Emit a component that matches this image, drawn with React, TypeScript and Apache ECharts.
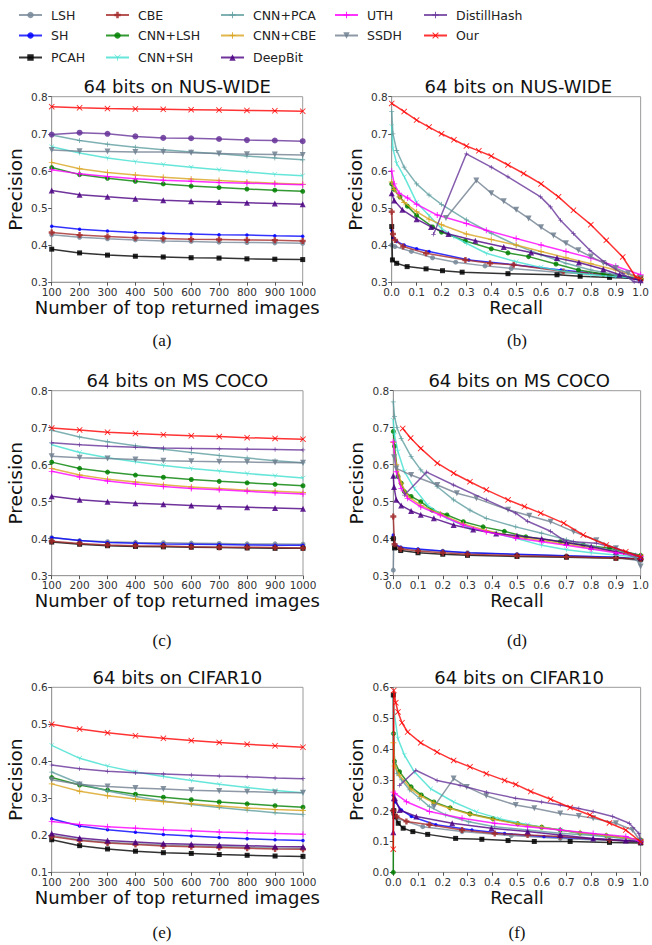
import React, { useEffect, useRef } from 'react';
import * as echarts from 'echarts';

const FONT = '"DejaVu Sans", "Noto Sans", sans-serif';

// ---------------- series identity ----------------
const SERIES_NAMES = ['LSH', 'SH', 'PCAH', 'CBE', 'CNN+LSH', 'CNN+SH', 'CNN+PCA', 'CNN+CBE', 'DeepBit', 'UTH', 'SSDH', 'DistillHash', 'Our'];

// ---------------- data: top-k precision ----------------
const TOPK_X = [100, 200, 300, 400, 500, 600, 700, 800, 900, 1000];

const nusTopK: Record<string, number[]> = {
  LSH: [0.428, 0.421, 0.417, 0.414, 0.411, 0.41, 0.408, 0.407, 0.406, 0.405],
  SH: [0.451, 0.443, 0.438, 0.434, 0.432, 0.43, 0.428, 0.427, 0.425, 0.424],
  PCAH: [0.389, 0.379, 0.373, 0.37, 0.368, 0.366, 0.365, 0.363, 0.362, 0.361],
  CBE: [0.434, 0.427, 0.423, 0.42, 0.418, 0.416, 0.415, 0.414, 0.413, 0.411],
  'CNN+LSH': [0.609, 0.59, 0.58, 0.572, 0.565, 0.559, 0.555, 0.551, 0.548, 0.545],
  'CNN+SH': [0.665, 0.648, 0.635, 0.625, 0.617, 0.61, 0.603, 0.597, 0.591, 0.587],
  'CNN+PCA': [0.697, 0.682, 0.672, 0.664, 0.657, 0.651, 0.646, 0.64, 0.635, 0.63],
  'CNN+CBE': [0.623, 0.606, 0.596, 0.589, 0.583, 0.578, 0.574, 0.57, 0.567, 0.564],
  DeepBit: [0.547, 0.536, 0.53, 0.525, 0.521, 0.518, 0.516, 0.514, 0.512, 0.51],
  UTH: [0.603, 0.592, 0.585, 0.579, 0.575, 0.572, 0.569, 0.567, 0.565, 0.563],
  SSDH: [0.656, 0.653, 0.652, 0.651, 0.651, 0.649, 0.647, 0.645, 0.644, 0.643],
  DistillHash: [0.698, 0.703, 0.7, 0.693, 0.689, 0.688, 0.686, 0.683, 0.682, 0.68],
  Our: [0.773, 0.77, 0.768, 0.767, 0.766, 0.765, 0.764, 0.763, 0.762, 0.761],
};

const cocoTopK: Record<string, number[]> = {
  LSH: [0.403, 0.395, 0.392, 0.39, 0.389, 0.388, 0.387, 0.386, 0.386, 0.385],
  SH: [0.403, 0.395, 0.39, 0.388, 0.386, 0.385, 0.384, 0.383, 0.382, 0.382],
  PCAH: [0.391, 0.385, 0.381, 0.379, 0.378, 0.377, 0.376, 0.375, 0.374, 0.374],
  CBE: [0.393, 0.387, 0.383, 0.381, 0.38, 0.378, 0.377, 0.377, 0.376, 0.375],
  'CNN+LSH': [0.607, 0.59, 0.58, 0.572, 0.566, 0.56, 0.555, 0.551, 0.547, 0.543],
  'CNN+SH': [0.654, 0.633, 0.619, 0.608, 0.598, 0.59, 0.583, 0.576, 0.57, 0.564],
  'CNN+PCA': [0.693, 0.675, 0.662, 0.651, 0.642, 0.633, 0.625, 0.618, 0.611, 0.605],
  'CNN+CBE': [0.59, 0.572, 0.561, 0.553, 0.546, 0.54, 0.536, 0.531, 0.528, 0.525],
  DeepBit: [0.515, 0.505, 0.5, 0.496, 0.493, 0.49, 0.487, 0.485, 0.483, 0.481],
  UTH: [0.582, 0.567, 0.556, 0.548, 0.541, 0.536, 0.532, 0.528, 0.524, 0.521],
  SSDH: [0.623, 0.619, 0.617, 0.614, 0.611, 0.609, 0.608, 0.607, 0.606, 0.605],
  DistillHash: [0.659, 0.654, 0.65, 0.647, 0.645, 0.644, 0.643, 0.642, 0.641, 0.64],
  Our: [0.699, 0.694, 0.688, 0.684, 0.681, 0.678, 0.676, 0.673, 0.671, 0.669],
};

const cifarTopK: Record<string, number[]> = {
  LSH: [0.2, 0.188, 0.181, 0.177, 0.174, 0.172, 0.17, 0.168, 0.166, 0.165],
  SH: [0.245, 0.225, 0.215, 0.208, 0.202, 0.198, 0.194, 0.191, 0.188, 0.186],
  PCAH: [0.188, 0.172, 0.163, 0.157, 0.153, 0.151, 0.148, 0.146, 0.144, 0.143],
  CBE: [0.197, 0.186, 0.179, 0.175, 0.171, 0.169, 0.167, 0.165, 0.163, 0.162],
  'CNN+LSH': [0.356, 0.336, 0.322, 0.311, 0.303, 0.296, 0.29, 0.285, 0.28, 0.276],
  'CNN+SH': [0.443, 0.408, 0.387, 0.371, 0.359, 0.348, 0.338, 0.329, 0.321, 0.315],
  'CNN+PCA': [0.371, 0.34, 0.32, 0.305, 0.293, 0.283, 0.275, 0.268, 0.261, 0.256],
  'CNN+CBE': [0.339, 0.319, 0.307, 0.298, 0.291, 0.285, 0.279, 0.274, 0.27, 0.267],
  DeepBit: [0.205, 0.193, 0.186, 0.182, 0.178, 0.176, 0.174, 0.172, 0.17, 0.169],
  UTH: [0.237, 0.229, 0.223, 0.219, 0.215, 0.212, 0.209, 0.207, 0.205, 0.203],
  SSDH: [0.35, 0.337, 0.332, 0.328, 0.325, 0.322, 0.32, 0.318, 0.316, 0.315],
  DistillHash: [0.39, 0.38, 0.373, 0.369, 0.366, 0.363, 0.36, 0.358, 0.355, 0.353],
  Our: [0.5, 0.487, 0.477, 0.469, 0.462, 0.456, 0.451, 0.446, 0.442, 0.438],
};

// ---------------- data: precision-recall [recall, precision] ----------------
const nusPR: Record<string, number[][]> = {
  LSH: [[0, 0.4], [0.013, 0.396], [0.079, 0.383], [0.164, 0.366], [0.257, 0.354], [0.375, 0.344], [0.48, 0.337], [0.678, 0.326], [0.875, 0.319], [1.0, 0.305]],
  SH: [[0, 0.44], [0.005, 0.42], [0.02, 0.41], [0.05, 0.4], [0.1, 0.39], [0.15, 0.383], [0.31, 0.36], [0.49, 0.347], [0.68, 0.333], [0.875, 0.32], [1.0, 0.305]],
  PCAH: [[0, 0.45], [0.003, 0.36], [0.02, 0.351], [0.062, 0.342], [0.138, 0.336], [0.204, 0.331], [0.283, 0.327], [0.467, 0.323], [0.664, 0.32], [0.757, 0.316], [0.875, 0.313], [1.0, 0.31]],
  CBE: [[0, 0.49], [0.005, 0.43], [0.013, 0.414], [0.046, 0.396], [0.138, 0.378], [0.296, 0.36], [0.395, 0.351], [0.49, 0.347], [0.69, 0.329], [0.85, 0.322], [1.0, 0.308]],
  'CNN+LSH': [[0, 0.565], [0.01, 0.55], [0.033, 0.53], [0.063, 0.505], [0.1, 0.48], [0.164, 0.449], [0.2, 0.435], [0.296, 0.411], [0.4, 0.39], [0.467, 0.379], [0.55, 0.369], [0.66, 0.349], [0.75, 0.333], [0.85, 0.322], [1.0, 0.31]],
  'CNN+SH': [[0, 0.72], [0.005, 0.66], [0.02, 0.62], [0.051, 0.584], [0.1, 0.515], [0.15, 0.48], [0.2, 0.445], [0.25, 0.422], [0.3, 0.405], [0.38, 0.378], [0.5, 0.355], [0.6, 0.34], [0.7, 0.328], [0.8, 0.32], [0.9, 0.315], [1.0, 0.31]],
  'CNN+PCA': [[0, 0.76], [0.005, 0.7], [0.02, 0.655], [0.05, 0.61], [0.1, 0.565], [0.15, 0.535], [0.2, 0.51], [0.3, 0.468], [0.4, 0.432], [0.5, 0.4], [0.6, 0.374], [0.7, 0.351], [0.8, 0.333], [0.9, 0.32], [1.0, 0.31]],
  'CNN+CBE': [[0, 0.57], [0.01, 0.55], [0.03, 0.53], [0.05, 0.515], [0.1, 0.49], [0.15, 0.47], [0.2, 0.455], [0.3, 0.43], [0.4, 0.415], [0.5, 0.4], [0.6, 0.383], [0.7, 0.366], [0.8, 0.35], [0.9, 0.333], [1.0, 0.31]],
  DeepBit: [[0, 0.54], [0.01, 0.52], [0.043, 0.495], [0.1, 0.47], [0.158, 0.449], [0.228, 0.43], [0.336, 0.412], [0.45, 0.395], [0.56, 0.38], [0.664, 0.365], [0.752, 0.353], [0.85, 0.335], [0.915, 0.32], [1.0, 0.305]],
  UTH: [[0, 0.6], [0.01, 0.565], [0.03, 0.54], [0.064, 0.527], [0.1, 0.51], [0.183, 0.481], [0.3, 0.458], [0.38, 0.44], [0.5, 0.418], [0.6, 0.4], [0.7, 0.383], [0.8, 0.365], [0.9, 0.343], [1.0, 0.32]],
  SSDH: [[0.218, 0.473], [0.34, 0.574], [0.4, 0.54], [0.45, 0.518], [0.5, 0.495], [0.55, 0.472], [0.6, 0.448], [0.65, 0.426], [0.7, 0.405], [0.75, 0.386], [0.8, 0.369], [0.85, 0.352], [0.9, 0.338], [0.95, 0.324], [1.0, 0.311]],
  DistillHash: [[0.168, 0.429], [0.3, 0.646], [0.4, 0.61], [0.467, 0.584], [0.598, 0.53], [0.638, 0.503], [0.678, 0.467], [0.73, 0.431], [0.796, 0.386], [0.862, 0.35], [0.928, 0.323], [0.974, 0.301], [1.0, 0.3]],
  Our: [[0, 0.782], [0.05, 0.76], [0.1, 0.737], [0.15, 0.718], [0.2, 0.7], [0.25, 0.684], [0.3, 0.667], [0.35, 0.654], [0.4, 0.64], [0.467, 0.616], [0.53, 0.593], [0.6, 0.565], [0.67, 0.53], [0.73, 0.494], [0.8, 0.455], [0.862, 0.413], [0.928, 0.368], [0.98, 0.314], [1.0, 0.31]],
};

const cocoPR: Record<string, number[][]> = {
  LSH: [[0, 0.315], [0.002, 0.4], [0.01, 0.38], [0.03, 0.375], [0.1, 0.37], [0.2, 0.366], [0.3, 0.362], [0.5, 0.357], [0.7, 0.353], [0.9, 0.35], [1.0, 0.34]],
  SH: [[0, 0.41], [0.005, 0.385], [0.03, 0.377], [0.1, 0.372], [0.2, 0.367], [0.3, 0.362], [0.5, 0.358], [0.7, 0.354], [0.9, 0.35], [1.0, 0.345]],
  PCAH: [[0, 0.4], [0.005, 0.375], [0.03, 0.368], [0.1, 0.362], [0.2, 0.358], [0.3, 0.355], [0.5, 0.352], [0.7, 0.35], [0.9, 0.347], [1.0, 0.345]],
  CBE: [[0, 0.46], [0.005, 0.385], [0.03, 0.372], [0.1, 0.367], [0.2, 0.362], [0.3, 0.358], [0.5, 0.354], [0.7, 0.351], [0.9, 0.348], [1.0, 0.345]],
  'CNN+LSH': [[0, 0.69], [0.005, 0.65], [0.019, 0.568], [0.032, 0.55], [0.045, 0.527], [0.072, 0.514], [0.111, 0.5], [0.157, 0.477], [0.217, 0.464], [0.283, 0.446], [0.363, 0.432], [0.449, 0.42], [0.536, 0.405], [0.675, 0.392], [0.768, 0.383], [0.874, 0.374], [1.0, 0.355]],
  'CNN+SH': [[0, 0.72], [0.005, 0.68], [0.019, 0.635], [0.045, 0.581], [0.085, 0.536], [0.138, 0.491], [0.217, 0.455], [0.31, 0.428], [0.416, 0.414], [0.495, 0.401], [0.6, 0.382], [0.7, 0.37], [0.8, 0.362], [0.9, 0.356], [1.0, 0.35]],
  'CNN+PCA': [[0, 0.77], [0.005, 0.73], [0.015, 0.7], [0.032, 0.671], [0.072, 0.622], [0.111, 0.586], [0.177, 0.541], [0.244, 0.505], [0.31, 0.477], [0.376, 0.455], [0.495, 0.432], [0.6, 0.415], [0.7, 0.397], [0.8, 0.38], [0.9, 0.366], [1.0, 0.352]],
  'CNN+CBE': [[0, 0.66], [0.012, 0.6], [0.032, 0.55], [0.058, 0.515], [0.111, 0.49], [0.19, 0.467], [0.283, 0.44], [0.376, 0.422], [0.495, 0.405], [0.6, 0.395], [0.7, 0.385], [0.8, 0.375], [0.9, 0.364], [1.0, 0.354]],
  DeepBit: [[0, 0.57], [0.003, 0.54], [0.012, 0.505], [0.032, 0.49], [0.072, 0.475], [0.111, 0.465], [0.164, 0.455], [0.244, 0.437], [0.323, 0.425], [0.416, 0.414], [0.5, 0.408], [0.6, 0.4], [0.7, 0.39], [0.8, 0.378], [0.9, 0.365], [1.0, 0.35]],
  UTH: [[0, 0.662], [0.012, 0.581], [0.032, 0.536], [0.058, 0.509], [0.111, 0.486], [0.19, 0.464], [0.283, 0.437], [0.376, 0.419], [0.495, 0.402], [0.6, 0.392], [0.7, 0.382], [0.8, 0.372], [0.9, 0.362], [1.0, 0.352]],
  SSDH: [[0.003, 0.62], [0.012, 0.59], [0.072, 0.572], [0.178, 0.545], [0.257, 0.523], [0.336, 0.509], [0.464, 0.478], [0.55, 0.462], [0.636, 0.446], [0.729, 0.419], [0.821, 0.396], [0.9, 0.374], [0.98, 0.347], [1.0, 0.325]],
  DistillHash: [[0.045, 0.518], [0.135, 0.58], [0.244, 0.545], [0.376, 0.505], [0.495, 0.469], [0.543, 0.447], [0.636, 0.42], [0.689, 0.396], [0.729, 0.392], [0.821, 0.388], [0.9, 0.374], [0.98, 0.356], [1.0, 0.35]],
  Our: [[0.038, 0.698], [0.07, 0.672], [0.111, 0.644], [0.178, 0.604], [0.244, 0.577], [0.31, 0.554], [0.376, 0.532], [0.464, 0.505], [0.53, 0.487], [0.596, 0.469], [0.689, 0.442], [0.768, 0.41], [0.861, 0.383], [0.94, 0.365], [1.0, 0.35]],
};

const cifarPR: Record<string, number[][]> = {
  LSH: [[0, 0.19], [0.013, 0.175], [0.119, 0.148], [0.278, 0.132], [0.477, 0.119], [0.675, 0.11], [0.874, 0.103], [1.0, 0.098]],
  SH: [[0, 0.25], [0.007, 0.229], [0.033, 0.202], [0.073, 0.181], [0.172, 0.154], [0.318, 0.137], [0.45, 0.126], [0.609, 0.116], [0.808, 0.108], [1.0, 0.1]],
  PCAH: [[0, 0.575], [0.002, 0.2], [0.007, 0.181], [0.02, 0.159], [0.04, 0.143], [0.079, 0.132], [0.139, 0.123], [0.252, 0.11], [0.358, 0.107], [0.464, 0.103], [0.57, 0.1], [0.715, 0.1], [0.874, 0.097], [1.0, 0.095]],
  CBE: [[0, 0.2], [0.013, 0.181], [0.053, 0.165], [0.146, 0.154], [0.278, 0.137], [0.41, 0.126], [0.543, 0.121], [0.675, 0.116], [0.874, 0.105], [1.0, 0.1]],
  'CNN+LSH': [[0, 0.0], [0.001, 0.45], [0.005, 0.36], [0.025, 0.326], [0.072, 0.277], [0.113, 0.251], [0.164, 0.228], [0.23, 0.209], [0.31, 0.19], [0.403, 0.174], [0.503, 0.158], [0.6, 0.146], [0.675, 0.137], [0.755, 0.127], [0.861, 0.119], [1.0, 0.105]],
  'CNN+SH': [[0, 0.56], [0.005, 0.51], [0.019, 0.433], [0.045, 0.38], [0.085, 0.326], [0.151, 0.271], [0.244, 0.228], [0.336, 0.196], [0.429, 0.174], [0.543, 0.154], [0.675, 0.137], [0.808, 0.121], [0.94, 0.11], [1.0, 0.1]],
  'CNN+PCA': [[0, 0.45], [0.005, 0.36], [0.015, 0.32], [0.033, 0.3], [0.066, 0.267], [0.106, 0.24], [0.146, 0.213], [0.212, 0.186], [0.305, 0.164], [0.41, 0.148], [0.543, 0.137], [0.675, 0.127], [0.808, 0.119], [0.94, 0.11], [1.0, 0.1]],
  'CNN+CBE': [[0, 0.42], [0.005, 0.345], [0.025, 0.315], [0.072, 0.27], [0.113, 0.246], [0.164, 0.225], [0.23, 0.207], [0.31, 0.188], [0.403, 0.172], [0.503, 0.157], [0.6, 0.146], [0.675, 0.137], [0.755, 0.128], [0.861, 0.119], [1.0, 0.105]],
  DeepBit: [[0, 0.13], [0.002, 0.24], [0.007, 0.24], [0.026, 0.202], [0.093, 0.181], [0.238, 0.159], [0.397, 0.143], [0.543, 0.132], [0.675, 0.121], [0.808, 0.11], [0.94, 0.103], [1.0, 0.1]],
  UTH: [[0, 0.26], [0.007, 0.256], [0.053, 0.229], [0.146, 0.197], [0.278, 0.175], [0.41, 0.159], [0.543, 0.148], [0.675, 0.137], [0.808, 0.126], [0.94, 0.116], [1.0, 0.1]],
  SSDH: [[0.164, 0.212], [0.244, 0.304], [0.297, 0.277], [0.376, 0.248], [0.495, 0.218], [0.57, 0.208], [0.675, 0.191], [0.75, 0.183], [0.808, 0.175], [0.9, 0.159], [0.967, 0.137], [1.0, 0.1]],
  DistillHash: [[0.025, 0.282], [0.091, 0.331], [0.177, 0.298], [0.27, 0.282], [0.376, 0.26], [0.495, 0.24], [0.6, 0.228], [0.675, 0.218], [0.75, 0.207], [0.808, 0.197], [0.887, 0.181], [0.954, 0.159], [0.993, 0.126], [1.0, 0.1]],
  Our: [[0, 0.075], [0.002, 0.59], [0.01, 0.55], [0.019, 0.52], [0.035, 0.485], [0.058, 0.455], [0.111, 0.42], [0.177, 0.39], [0.244, 0.363], [0.31, 0.342], [0.376, 0.32], [0.45, 0.298], [0.495, 0.285], [0.556, 0.262], [0.636, 0.237], [0.715, 0.21], [0.795, 0.186], [0.874, 0.16], [0.94, 0.137], [1.0, 0.099]],
};

// ---------------- tick labels ----------------
const TOPK_TICKS = { min: 100, max: 1000, interval: 100 };
const RECALL_TICKS = { min: 0, max: 1, interval: 0.1 };

// ---------------- styles ----------------
const SYM_X = 'path://M1,0L5,4L9,0L10,1L6,5L10,9L9,10L5,6L1,10L0,9L4,5L0,1Z';
const SYM_PLUS = 'path://M4.2,0H5.8V4.2H10V5.8H5.8V10H4.2V5.8H0V4.2H4.2Z';
const SYM_PLUSBOLD = 'path://M3,0H7V3H10V7H7V10H3V7H0V3H3Z';
const SYM_TRI1 = 'path://M0.6,0.9L5,4.4L9.4,0.9L10,1.7L5.6,5.2V10H4.4V5.2L0,1.7Z';

const STYLE: Record<string, { color: string; symbol: string; size: number; rotate?: number }> = {
  LSH: { color: '#778899', symbol: 'circle', size: 5 },
  SH: { color: '#0000ff', symbol: 'circle', size: 3.5 },
  PCAH: { color: '#000000', symbol: 'rect', size: 5 },
  CBE: { color: '#a52a2a', symbol: SYM_PLUSBOLD, size: 6 },
  'CNN+LSH': { color: '#008000', symbol: 'circle', size: 5 },
  'CNN+SH': { color: '#40e0d0', symbol: SYM_TRI1, size: 5 },
  'CNN+PCA': { color: '#5f9ea0', symbol: SYM_PLUS, size: 5 },
  'CNN+CBE': { color: '#daa520', symbol: SYM_PLUS, size: 6 },
  DeepBit: { color: '#4b0082', symbol: 'triangle', size: 6 },
  UTH: { color: '#ff00ff', symbol: SYM_PLUS, size: 6 },
  SSDH: { color: '#708090', symbol: 'triangle', size: 6, rotate: 180 },
  DistillHash: { color: '#663399', symbol: SYM_PLUS, size: 4.5 },
  Our: { color: '#ff0000', symbol: SYM_X, size: 6 },
};

// legend layout (matplotlib ncol=5, column-major)
const LEGEND_POS: number[][] = [
  [18, 8.5], [18, 29], [18, 51],
  [105, 8.5], [105, 29], [105, 51],
  [220, 8.5], [220, 29], [220, 51],
  [334, 8.5], [334, 29],
  [423, 8.5], [423, 29],
];

type Panel = {
  title: string;
  label: string;
  kind: 'topk' | 'pr';
  topk?: Record<string, number[]>;
  pr?: Record<string, number[][]>;
  yMin: number;
  yMax: number;
  grid: { left: number; top: number; width: number; height: number };
  labelX: number;
  labelY: number;
  override?: Record<string, { symbol: string; size: number }>;
};

const PANELS: Panel[] = [
  { title: '64 bits on NUS-WIDE', label: '(a)', kind: 'topk', topk: nusTopK, yMin: 0.3, yMax: 0.8, grid: { left: 51.7, top: 96.7, width: 251, height: 185.5 }, labelX: 162, labelY: 340, override: { DistillHash: { symbol: 'circle', size: 6 } } },
  { title: '64 bits on NUS-WIDE', label: '(b)', kind: 'pr', pr: nusPR, yMin: 0.3, yMax: 0.8, grid: { left: 391.7, top: 96.7, width: 253.3, height: 185.5 }, labelX: 517, labelY: 340 },
  { title: '64 bits on MS COCO', label: '(c)', kind: 'topk', topk: cocoTopK, yMin: 0.3, yMax: 0.8, grid: { left: 51.7, top: 390.7, width: 251.3, height: 185 }, labelX: 162, labelY: 640 },
  { title: '64 bits on MS COCO', label: '(d)', kind: 'pr', pr: cocoPR, yMin: 0.3, yMax: 0.8, grid: { left: 393.3, top: 390.7, width: 251.7, height: 185 }, labelX: 517, labelY: 640 },
  { title: '64 bits on CIFAR10', label: '(e)', kind: 'topk', topk: cifarTopK, yMin: 0.1, yMax: 0.6, grid: { left: 51.7, top: 687.3, width: 251.3, height: 185 }, labelX: 162, labelY: 932 },
  { title: '64 bits on CIFAR10', label: '(f)', kind: 'pr', pr: cifarPR, yMin: 0.0, yMax: 0.6, grid: { left: 393.3, top: 687.3, width: 251.7, height: 185 }, labelX: 517, labelY: 932 },
];

const SERIES_PANEL_ORDER = [1, 0, 2, 3, 4, 5];

function buildOption() {
  const grids: any[] = [];
  const xAxes: any[] = [];
  const yAxes: any[] = [];
  const graphics: any[] = [];
  const series: any[] = [];

  PANELS.forEach((p, i) => {
    grids.push({ ...p.grid, show: true, borderColor: '#9a9a9a', borderWidth: 1, backgroundColor: 'transparent', containLabel: false });
    const xt = p.kind === 'topk' ? TOPK_TICKS : RECALL_TICKS;
    xAxes.push({
      type: 'value', gridIndex: i, min: xt.min, max: xt.max, interval: xt.interval,
      name: p.kind === 'topk' ? 'Number of top returned images' : 'Recall',
      nameLocation: 'middle', nameGap: 13,
      nameTextStyle: { fontSize: 18, color: '#111', fontFamily: FONT },
      axisLine: { show: true, lineStyle: { color: '#9a9a9a', width: 1 } },
      axisTick: { show: true, length: 3.5, lineStyle: { color: '#555' } },
      axisLabel: { fontSize: 10.5, color: '#333', fontFamily: FONT, margin: 4, formatter: (v: number) => (p.kind === 'topk' ? String(Math.round(v)) : v.toFixed(1)) },
      splitLine: { show: false },
    });
    yAxes.push({
      type: 'value', gridIndex: i, min: p.yMin, max: p.yMax, interval: 0.1,
      name: 'Precision', nameLocation: 'middle', nameGap: 27,
      nameTextStyle: { fontSize: 18.5, color: '#111', fontFamily: FONT },
      axisLine: { show: true, lineStyle: { color: '#9a9a9a', width: 1 } },
      axisTick: { show: true, length: 3.5, lineStyle: { color: '#555' } },
      axisLabel: { fontSize: 10.5, color: '#333', fontFamily: FONT, margin: 4, formatter: (v: number) => v.toFixed(1) },
      splitLine: { show: false },
    });
    const cx = p.grid.left + p.grid.width / 2;
    graphics.push({
      type: 'text', x: cx, y: p.grid.top - 10, silent: true,
      style: { text: p.title, fill: '#111', font: `18px ${FONT}`, textAlign: 'center', textVerticalAlign: 'middle' },
    });
    graphics.push({
      type: 'text', x: p.labelX, y: p.labelY, silent: true,
      style: { text: p.label, fill: '#111', font: '17px "Liberation Serif", "DejaVu Serif", serif', textAlign: 'center', textVerticalAlign: 'middle' },
    });
  });

  SERIES_PANEL_ORDER.forEach((i) => {
    const p = PANELS[i];
    SERIES_NAMES.forEach((name, k) => {
      const st = STYLE[name];
      const ov = p.override && p.override[name];
      const data = p.kind === 'topk'
        ? TOPK_X.map((x, j) => [x, (p.topk as any)[name][j]])
        : (p.pr as any)[name];
      series.push({
        type: 'line', name, xAxisIndex: i, yAxisIndex: i, data,
        symbol: ov ? ov.symbol : st.symbol,
        symbolSize: ov ? ov.size : st.size,
        symbolRotate: st.rotate || 0,
        showSymbol: true,
        lineStyle: { color: st.color, width: 1.5, opacity: 0.8 },
        itemStyle: { color: st.color, opacity: 0.85 },
        emphasis: { disabled: true },
        silent: true,
        z: 2 + k * 0.01,
        clip: true,
      });
    });
  });

  const legends = SERIES_NAMES.map((name, i) => ({
    data: [name], left: LEGEND_POS[i][0], top: LEGEND_POS[i][1], padding: 0,
    itemWidth: 23, itemHeight: 8, selectedMode: false,
    textStyle: { fontSize: 12.5, color: '#222', fontFamily: FONT, padding: [0, 0, 0, 4] },
  }));

  return {
    animation: false,
    backgroundColor: '#ffffff',
    textStyle: { fontFamily: FONT },
    grid: grids,
    xAxis: xAxes,
    yAxis: yAxes,
    legend: legends,
    graphic: graphics,
    series,
  };
}

export default function App() {
  const ref = useRef<HTMLDivElement>(null);
  useEffect(() => {
    document.body.style.margin = '0';
    if (!ref.current) return;
    const chart = echarts.init(ref.current, undefined, { renderer: 'svg' });
    chart.setOption(buildOption() as any);
    return () => chart.dispose();
  }, []);
  return <div ref={ref} style={{ width: 652, height: 945 }} />;
}
